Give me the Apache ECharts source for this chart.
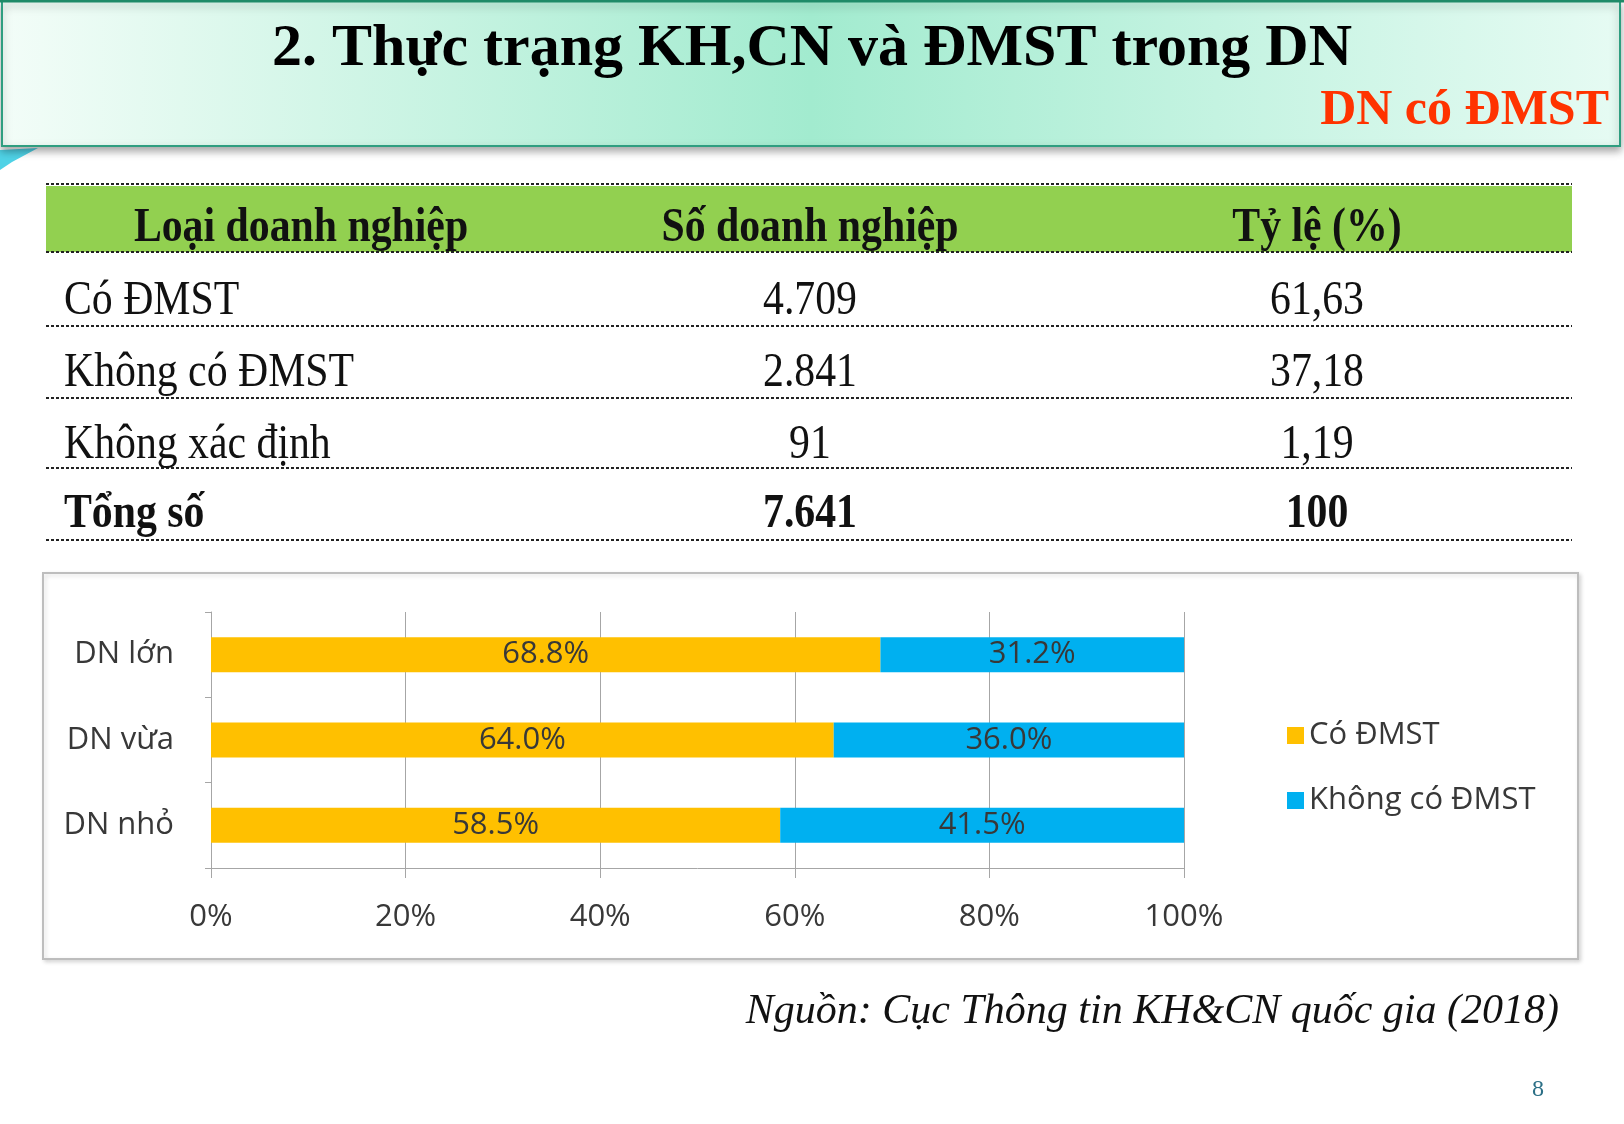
<!DOCTYPE html>
<html>
<head>
<meta charset="utf-8">
<script src="https://cdn.jsdelivr.net/npm/echarts@6/dist/echarts.min.js"></script>
<style>
html,body{margin:0;padding:0;background:#fff;}
#c{width:1624px;height:1124px;}
</style>
</head>
<body>
<div id="c"></div>
<script>
// ---- Data ----
var titleText = '2. Thực trạng KH,CN và ĐMST trong DN';
var subtitleText = 'DN có ĐMST';
var tableHeader = ['Loại doanh nghiệp', 'Số doanh nghiệp', 'Tỷ lệ (%)'];
var rowLabels = ['Có ĐMST', 'Không có ĐMST', 'Không xác định', 'Tổng số'];
var rowCounts = ['4.709', '2.841', '91', '7.641'];
var rowShares = ['61,63', '37,18', '1,19', '100'];
var categories = ['DN lớn', 'DN vừa', 'DN nhỏ'];
var seriesNames = ['Có ĐMST', 'Không có ĐMST'];
var coDMST = [68.8, 64.0, 58.5];
var khongDMST = [31.2, 36.0, 41.5];
var xTicks = [0, 20, 40, 60, 80, 100];
var sourceText = 'Nguồn: Cục Thông tin KH&CN quốc gia (2018)';
var pageNumber = '8';

// ---- Layout ----
var serif = '"Liberation Serif", "Times New Roman", serif';
var sans = '"Open Sans", "Noto Sans", sans-serif';
var tblLeft = 46, tblRight = 1572;
var lineYs = [184, 252, 326, 398, 468, 540];
var rowCenters = [301, 373, 445, 515];
var colCenters = [301, 810, 1317];
var sx = 0.87;
var fs = 31;
var txtColor = '#383838';

var g = [];
// title band
g.push({type:'rect', shape:{x:2, y:1, width:1618, height:145},
  style:{fill:new echarts.graphic.LinearGradient(0,0,1,0,[
    {offset:0,color:'#f3fdf8'},{offset:0.5,color:'#a2ebcf'},{offset:1,color:'#e6fbf3'}]),
    stroke:'#2f9e80', lineWidth:2, shadowColor:'rgba(0,0,0,0.35)', shadowBlur:8, shadowOffsetY:4}, z:1});
g.push({type:'line', shape:{x1:0,y1:1,x2:1624,y2:1}, style:{stroke:'#1f8a68', lineWidth:3}, z:2});
// left swoosh
g.push({type:'polygon', shape:{points:[[0,150],[38,148],[12,162],[0,170]]}, style:{fill:'#4fd2e6'}, z:0});
g.push({type:'text', x:812, y:49, style:{text:titleText, font:'bold 60px ' + serif, fill:'#000',
  textAlign:'center', textVerticalAlign:'middle'}, z:3});
g.push({type:'text', x:1609, y:111, style:{text:subtitleText, font:'bold 50px ' + serif, fill:'#ff3300',
  textAlign:'right', textVerticalAlign:'middle'}, z:3});

// table
g.push({type:'rect', shape:{x:tblLeft, y:186, width:tblRight-tblLeft, height:66}, style:{fill:'#92d050'}, z:1});
lineYs.forEach(function(y){
  g.push({type:'line', shape:{x1:tblLeft,y1:y,x2:tblRight,y2:y}, style:{stroke:'#222', lineWidth:2, lineDash:[3,2]}, z:2});
});
tableHeader.forEach(function(t,i){
  g.push({type:'text', x:colCenters[i], y:229, scaleX:sx, style:{text:t, font:'bold 48px ' + serif, fill:'#111',
    textAlign:'center', textVerticalAlign:'middle'}, z:3});
});
rowLabels.forEach(function(t,i){
  var w = (i === rowLabels.length-1) ? 'bold ' : '';
  g.push({type:'text', x:64, y:rowCenters[i], scaleX:sx, style:{text:t, font:w+'48px ' + serif, fill:'#111',
    textAlign:'left', textVerticalAlign:'middle'}, z:3});
  g.push({type:'text', x:colCenters[1], y:rowCenters[i], scaleX:sx, style:{text:rowCounts[i], font:w+'48px ' + serif, fill:'#111',
    textAlign:'center', textVerticalAlign:'middle'}, z:3});
  g.push({type:'text', x:colCenters[2], y:rowCenters[i], scaleX:sx, style:{text:rowShares[i], font:w+'48px ' + serif, fill:'#111',
    textAlign:'center', textVerticalAlign:'middle'}, z:3});
});

// chart box
g.push({type:'rect', shape:{x:43, y:573, width:1535, height:386},
  style:{fill:'#fff', stroke:'#bdbdbd', lineWidth:2, shadowColor:'rgba(0,0,0,0.15)', shadowBlur:4, shadowOffsetX:2, shadowOffsetY:2}, z:-1});

// source & page number
g.push({type:'text', x:1559, y:1012, style:{text:sourceText, font:'italic 42px ' + serif, fill:'#111',
  textAlign:'right', textVerticalAlign:'middle'}, z:3});
g.push({type:'text', x:1538, y:1090, style:{text:pageNumber, font:'24px ' + serif, fill:'#2b6f86',
  textAlign:'center', textVerticalAlign:'middle'}, z:3});

var labelFmt = function(p){ return p.value.toFixed(1) + '%'; };

var chart = echarts.init(document.getElementById('c'), null, {renderer:'canvas'});
chart.setOption({
  animation:false,
  backgroundColor:'#fff',
  graphic:{elements:g},
  legend:{
    orient:'vertical', left:1282, top:715, itemWidth:17, itemHeight:17, itemGap:34, itemTextGap:8, itemStyle:{borderWidth:0},
    icon:'rect', textStyle:{fontSize:fs, color:txtColor, fontFamily:sans}, data:seriesNames
  },
  grid:{left:211, right:440, top:612, bottom:256, containLabel:false},
  xAxis:{
    type:'value', min:xTicks[0], max:xTicks[xTicks.length-1], interval:20,
    axisLine:{show:true, lineStyle:{color:'#a6a6a6', width:1}},
    axisTick:{show:true, length:10, lineStyle:{color:'#a6a6a6'}},
    splitLine:{show:true, lineStyle:{color:'#a6a6a6', width:1}},
    axisLabel:{formatter:'{value}%', fontSize:fs, color:txtColor, fontFamily:sans, margin:34}
  },
  yAxis:{
    type:'category', inverse:true, data:categories,
    axisLine:{show:true, lineStyle:{color:'#a6a6a6', width:1}},
    axisTick:{show:true, length:6, lineStyle:{color:'#a6a6a6'}},
    axisLabel:{fontSize:fs, color:txtColor, fontFamily:sans, margin:37}
  },
  series:[
    {name:seriesNames[0], type:'bar', stack:'s', data:coDMST, barWidth:35, itemStyle:{color:'#ffc000'},
     label:{show:true, position:'inside', formatter:labelFmt, fontSize:fs, color:txtColor, fontFamily:sans}},
    {name:seriesNames[1], type:'bar', stack:'s', data:khongDMST, barWidth:35, itemStyle:{color:'#00b0f0'},
     label:{show:true, position:'inside', formatter:labelFmt, fontSize:fs, color:txtColor, fontFamily:sans}}
  ]
});
</script>
</body>
</html>
